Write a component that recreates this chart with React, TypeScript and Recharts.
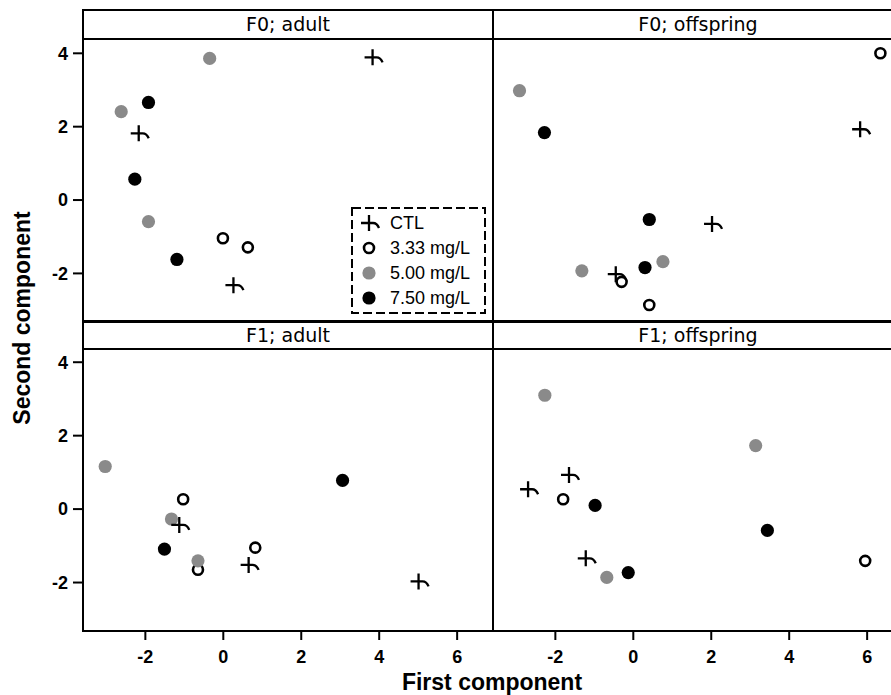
import React from 'react';
import { ScatterChart, Scatter, XAxis, YAxis, Legend } from 'recharts';

// ---- data ----
const groupNames = ['CTL', '3.33 mg/L', '5.00 mg/L', '7.50 mg/L'];
const panelTitles = ['F0; adult', 'F0; offspring', 'F1; adult', 'F1; offspring'];
const xTicks = [-2, 0, 2, 4, 6];
const yTicks = [-2, 0, 2, 4];
const xDomain = [-3.6, 6.92];
const yDomainTop = [-3.27, 4.39];
const yDomainBottom = [-3.32, 4.36];

const f0AdultCTL = [{ x: 3.83, y: 3.89 }, { x: -2.17, y: 1.82 }, { x: 0.26, y: -2.32 }];
const f0Adult333 = [{ x: -0.01, y: -1.04 }, { x: 0.63, y: -1.29 }];
const f0Adult500 = [{ x: -0.35, y: 3.86 }, { x: -2.62, y: 2.41 }, { x: -1.92, y: -0.59 }];
const f0Adult750 = [{ x: -1.92, y: 2.66 }, { x: -2.27, y: 0.57 }, { x: -1.19, y: -1.62 }];

const f0OffCTL = [{ x: 5.82, y: 1.93 }, { x: 2.02, y: -0.65 }, { x: -0.45, y: -2.02 }];
const f0Off333 = [{ x: 6.34, y: 4.0 }, { x: -0.3, y: -2.23 }, { x: 0.41, y: -2.86 }];
const f0Off500 = [{ x: -2.92, y: 2.98 }, { x: -1.32, y: -1.93 }, { x: 0.76, y: -1.68 }];
const f0Off750 = [{ x: -2.28, y: 1.84 }, { x: 0.41, y: -0.53 }, { x: 0.3, y: -1.84 }];

const f1AdultCTL = [{ x: -1.13, y: -0.43 }, { x: 0.65, y: -1.52 }, { x: 5.01, y: -1.97 }];
const f1Adult333 = [{ x: -1.03, y: 0.27 }, { x: -0.65, y: -1.65 }, { x: 0.82, y: -1.05 }];
const f1Adult500 = [{ x: -3.03, y: 1.16 }, { x: -1.33, y: -0.27 }, { x: -0.65, y: -1.41 }];
const f1Adult750 = [{ x: -1.51, y: -1.09 }, { x: 3.06, y: 0.78 }];

const f1OffCTL = [{ x: -1.65, y: 0.93 }, { x: -2.7, y: 0.54 }, { x: -1.22, y: -1.34 }];
const f1Off333 = [{ x: -1.8, y: 0.27 }, { x: 5.95, y: -1.41 }];
const f1Off500 = [{ x: -2.27, y: 3.1 }, { x: 3.14, y: 1.73 }, { x: -0.68, y: -1.86 }];
const f1Off750 = [{ x: -0.98, y: 0.1 }, { x: 3.44, y: -0.58 }, { x: -0.13, y: -1.73 }];

const GRAY = '#8a8a8a';

const CtlMark = ({ cx, cy }: any) => (
  <path
    d={`M${cx - 8},${cy} L${cx + 4},${cy} Q${cx + 8},${cy} ${cx + 10},${cy + 5} M${cx},${cy - 8} L${cx},${cy + 8}`}
    stroke="#000"
    strokeWidth={2.3}
    fill="none"
  />
);
const OpenMark = ({ cx, cy }: any) => (
  <circle cx={cx} cy={cy} r={5} fill="#fff" stroke="#000" strokeWidth={2.6} />
);
const GrayMark = ({ cx, cy }: any) => <circle cx={cx} cy={cy} r={6.6} fill={GRAY} />;
const BlackMark = ({ cx, cy }: any) => <circle cx={cx} cy={cy} r={6.6} fill="#000" />;

const marks = [CtlMark, OpenMark, GrayMark, BlackMark];

const LegendBox = () => (
  <svg width={136} height={108}>
    <rect x={1} y={1} width={133} height={105} fill="#fff" stroke="#000" strokeWidth={2} strokeDasharray="9 4" />
    {groupNames.map((n, i) => {
      const M = marks[i];
      const cy = 16 + i * 25;
      return (
        <g key={n}>
          <M cx={18} cy={cy} />
          <text x={39} y={cy + 6} fontFamily="Liberation Sans, Arial" fontSize={18} fill="#000">
            {n}
          </text>
        </g>
      );
    })}
  </svg>
);

const tickStyle = { fill: '#000', fontSize: 18, fontWeight: 'bold', fontFamily: 'Liberation Sans, Arial' };

function Panel({ left, top, width, height, yDomain, showY, showX, ctl, g333, g500, g750, legend }: any) {
  return (
    <div style={{ position: 'absolute', left, top }}>
      <ScatterChart width={width} height={height} margin={{ top: 0, right: 0, bottom: 0, left: 0 }}>
        <XAxis
          type="number"
          dataKey="x"
          domain={xDomain}
          ticks={xTicks}
          allowDataOverflow
          hide={!showX}
          height={60}
          axisLine={false}
          tickLine={{ stroke: '#000', strokeWidth: 2 }}
          tickSize={9}
          tickMargin={10}
          tick={tickStyle}
        />
        <YAxis
          type="number"
          dataKey="y"
          domain={yDomain}
          ticks={yTicks}
          allowDataOverflow
          hide={!showY}
          width={83}
          axisLine={false}
          tickLine={{ stroke: '#000', strokeWidth: 2 }}
          tickSize={10}
          tickMargin={5}
          tick={tickStyle}
        />
        <Scatter name={groupNames[1]} data={g333} fill="#fff" shape={OpenMark} isAnimationActive={false} />
        <Scatter name={groupNames[2]} data={g500} fill={GRAY} shape={GrayMark} isAnimationActive={false} />
        <Scatter name={groupNames[3]} data={g750} fill="#000" shape={BlackMark} isAnimationActive={false} />
        <Scatter name={groupNames[0]} data={ctl} fill="#000" shape={CtlMark} isAnimationActive={false} />
        {legend && (
          <Legend
            layout="vertical"
            align="center"
            verticalAlign="middle"
            wrapperStyle={{ left: 351, top: 168, width: 136, height: 108 }}
            content={() => <LegendBox />}
          />
        )}
      </ScatterChart>
    </div>
  );
}

const H = ({ x1, x2, y, w = 2 }: any) => (
  <div style={{ position: 'absolute', left: x1, top: y - w / 2, width: x2 - x1, height: w, background: '#000' }} />
);
const V = ({ x, y1, y2, w = 2 }: any) => (
  <div style={{ position: 'absolute', left: x - w / 2, top: y1, width: w, height: y2 - y1, background: '#000' }} />
);

const stripStyle = (left: number, top: number): React.CSSProperties => ({
  position: 'absolute',
  left,
  top,
  width: 410,
  height: 29,
  lineHeight: '29px',
  textAlign: 'center',
  fontFamily: 'DejaVu Sans, Verdana',
  fontSize: 19,
  color: '#000',
});

const titleStyle: React.CSSProperties = {
  position: 'absolute',
  height: 26,
  lineHeight: '26px',
  textAlign: 'center',
  fontFamily: 'Liberation Sans, Arial',
  fontWeight: 'bold',
  fontSize: 23,
  color: '#000',
  whiteSpace: 'nowrap',
};

export default function App() {
  return (
    <div
      style={{
        position: 'absolute',
        left: 0,
        top: 0,
        width: 891,
        height: 695,
        overflow: 'hidden',
        background: '#fff',
      }}
    >
      <Panel left={0} top={39} width={493} height={281} yDomain={yDomainTop} showY showX={false}
        ctl={f0AdultCTL} g333={f0Adult333} g500={f0Adult500} g750={f0Adult750} legend />
      <Panel left={493} top={39} width={410} height={281} yDomain={yDomainTop} showY={false} showX={false}
        ctl={f0OffCTL} g333={f0Off333} g500={f0Off500} g750={f0Off750} />
      <Panel left={0} top={349} width={493} height={342} yDomain={yDomainBottom} showY showX
        ctl={f1AdultCTL} g333={f1Adult333} g500={f1Adult500} g750={f1Adult750} />
      <Panel left={493} top={349} width={410} height={342} yDomain={yDomainBottom} showY={false} showX
        ctl={f1OffCTL} g333={f1Off333} g500={f1Off500} g750={f1Off750} />

      {/* frames */}
      <H x1={82} x2={905} y={10} />
      <H x1={82} x2={905} y={39} />
      <H x1={82} x2={905} y={321} w={3} />
      <H x1={82} x2={905} y={349} />
      <H x1={82} x2={905} y={631} />
      <V x={83} y1={9} y2={632} />
      <V x={493} y1={9} y2={632} />

      <div style={stripStyle(83, 10)}>{panelTitles[0]}</div>
      <div style={stripStyle(493, 10)}>{panelTitles[1]}</div>
      <div style={stripStyle(83, 321)}>{panelTitles[2]}</div>
      <div style={stripStyle(493, 321)}>{panelTitles[3]}</div>

      <div style={{ ...titleStyle, left: 22 - 150, top: 318 - 13, width: 300, transform: 'rotate(-90deg)' }}>
        Second component
      </div>
      <div style={{ ...titleStyle, left: 292, top: 669, width: 400 }}>First component</div>
    </div>
  );
}
